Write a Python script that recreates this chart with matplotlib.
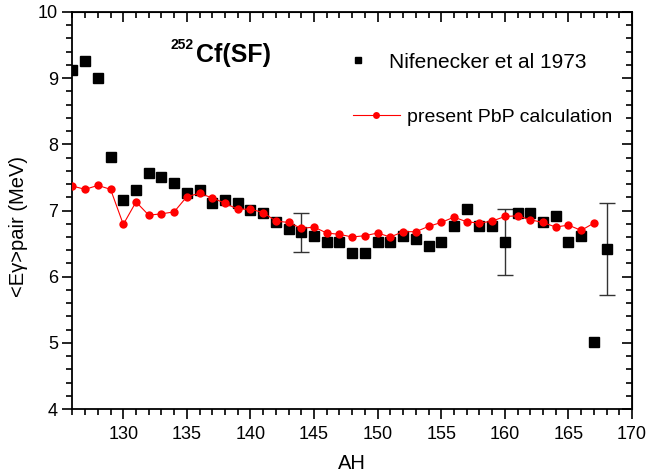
import numpy as np
import matplotlib
matplotlib.use('Agg')
import matplotlib.pyplot as plt
from matplotlib.ticker import MultipleLocator
from matplotlib.lines import Line2D

plt.rcParams['font.family'] = ['Liberation Sans', 'DejaVu Sans']

# Nifenecker et al 1973 (squares)
nif_A = np.arange(126, 169)
nif_E = [9.12, 9.26, 9.01, 7.81, 7.16, 7.31, 7.56, 7.51, 7.41, 7.26,
         7.31, 7.11, 7.16, 7.11, 7.01, 6.96, 6.82, 6.72, 6.67, 6.62,
         6.52, 6.52, 6.36, 6.36, 6.52, 6.52, 6.62, 6.57, 6.47, 6.52,
         6.77, 7.02, 6.76, 6.76, 6.52, 6.97, 6.97, 6.82, 6.92, 6.52,
         6.62, 5.02, 6.42]
# error bars shown on a few points
err_A = [144, 160, 168]
err_val = [0.3, 0.5, 0.7]

# present PbP calculation (red circles)
pbp_A = np.arange(126, 168)
pbp_E = [7.37, 7.32, 7.38, 7.32, 6.79, 7.13, 6.93, 6.95, 6.98, 7.21,
         7.26, 7.19, 7.11, 7.02, 7.02, 6.97, 6.84, 6.82, 6.73, 6.75,
         6.66, 6.64, 6.60, 6.62, 6.66, 6.60, 6.68, 6.68, 6.76, 6.82,
         6.90, 6.83, 6.81, 6.84, 6.91, 6.92, 6.86, 6.82, 6.75, 6.78,
         6.70, 6.81]

fig = plt.figure(figsize=(6.49, 4.74), dpi=100)
ax = fig.add_axes([0.1116, 0.137, 0.8622, 0.8377])

err_y = [nif_E[list(nif_A).index(a)] for a in err_A]
ax.errorbar(err_A, err_y, yerr=err_val, fmt='none', ecolor='#333333',
            elinewidth=1.0, capsize=6, capthick=1.0, zorder=2)
ax.plot(nif_A, nif_E, 's', color='black', markersize=6.5, zorder=3)
ax.plot(pbp_A, pbp_E, '-o', color='red', lw=0.8, markersize=6,
        markeredgewidth=0, zorder=4)

ax.set_xlim(126, 170)
ax.set_ylim(4, 10)
ax.xaxis.set_major_locator(MultipleLocator(5))
ax.xaxis.set_minor_locator(MultipleLocator(1))
ax.yaxis.set_major_locator(MultipleLocator(1))
ax.yaxis.set_minor_locator(MultipleLocator(0.2))
ax.tick_params(axis='both', which='both', direction='out', labelsize=13,
               width=1.2)
ax.tick_params(which='major', length=7)
ax.tick_params(which='minor', length=4)
ax.tick_params(axis='x', pad=5)
for s in ax.spines.values():
    s.set_linewidth(1.3)

# mirrored ticks on top/right, pointing inward
top = ax.secondary_xaxis('top')
top.xaxis.set_major_locator(MultipleLocator(5))
top.xaxis.set_minor_locator(MultipleLocator(1))
top.tick_params(which='both', direction='in', labeltop=False, width=1.2)
top.tick_params(which='major', length=7)
top.tick_params(which='minor', length=4)
right = ax.secondary_yaxis('right')
right.yaxis.set_major_locator(MultipleLocator(1))
right.yaxis.set_minor_locator(MultipleLocator(0.2))
right.tick_params(which='both', direction='in', labelright=False, width=1.2)
right.tick_params(which='major', length=7)
right.tick_params(which='minor', length=4)

ax.set_xlabel('AH', fontsize=14.5, labelpad=8)
ax.set_ylabel('<E\u03b3>pair (MeV)', fontsize=14.5)
ax.yaxis.set_label_coords(-0.079, 0.461)

ax.text(0.220, 0.875, 'Cf(SF)', transform=ax.transAxes, fontsize=18,
        fontweight='bold', va='baseline', ha='left')
ax.text(0.1745, 0.9068, '252', transform=ax.transAxes, fontsize=10,
        fontweight='bold', va='baseline', ha='left')

h1 = Line2D([], [], ls='none', marker='s', color='black', markersize=5)
h2 = Line2D([], [], ls='-', lw=0.8, marker='o', color='red', markersize=5,
            markeredgewidth=0)
leg1 = ax.legend([h1], ['Nifenecker et al 1973'], loc='center left',
                 bbox_to_anchor=(0.4746, 0.874), frameon=False, borderpad=0,
                 borderaxespad=0, handlelength=1.95, handletextpad=0.5,
                 fontsize=15)
ax.add_artist(leg1)
ax.legend([h2], ['present PbP calculation'], loc='center left',
          bbox_to_anchor=(0.5014, 0.7355), frameon=False, borderpad=0,
          borderaxespad=0, handlelength=2.4, handletextpad=0.37,
          fontsize=14)

fig.savefig('out.png', dpi=100)
